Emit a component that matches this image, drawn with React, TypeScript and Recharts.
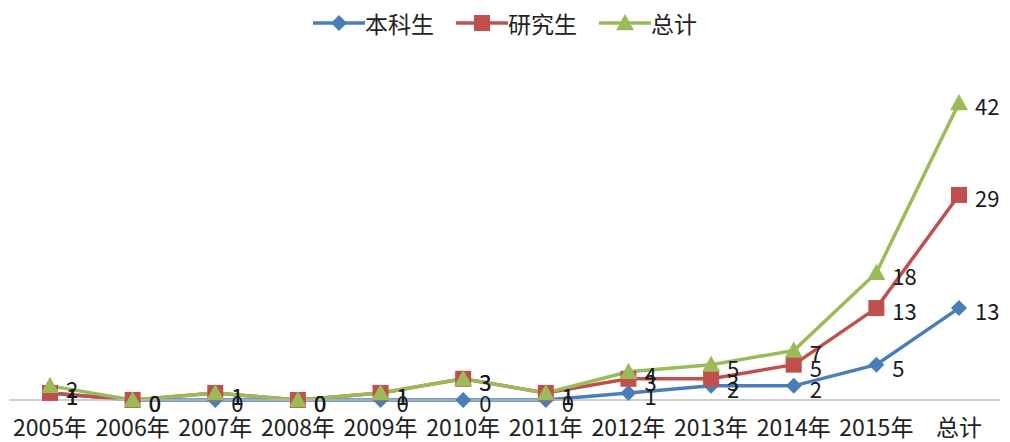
import { LineChart, Line, XAxis, YAxis, LabelList } from 'recharts';

const categories = ['2005年', '2006年', '2007年', '2008年', '2009年', '2010年', '2011年', '2012年', '2013年', '2014年', '2015年', '总计'];
const undergrad = [1, 0, 0, 0, 0, 0, 0, 1, 2, 2, 5, 13];
const graduate = [1, 0, 1, 0, 1, 3, 1, 3, 3, 5, 13, 29];
const total = [2, 0, 1, 0, 1, 3, 1, 4, 5, 7, 18, 42];

const data = categories.map((name, i) => ({
  name,
  undergrad: undergrad[i],
  graduate: graduate[i],
  total: total[i],
}));

const FONT = '"Noto Sans CJK SC", "Noto Sans", sans-serif';
const BLUE = '#4a7ebb';
const RED = '#c0504d';
const GREEN = '#9bbb59';

function Diamond({ cx, cy, fill }: any) {
  const r = 8;
  return <polygon points={`${cx},${cy - r} ${cx + r},${cy} ${cx},${cy + r} ${cx - r},${cy}`} fill={fill} />;
}
function Square({ cx, cy, fill }: any) {
  const r = 8;
  return <rect x={cx - r} y={cy - r} width={r * 2} height={r * 2} fill={fill} />;
}
function Triangle({ cx, cy, fill }: any) {
  const r = 9;
  return <polygon points={`${cx},${cy - r} ${cx + r},${cy + r * 0.8} ${cx - r},${cy + r * 0.8}`} fill={fill} />;
}

const renderLabel = (props: any) => {
  const { x, y, value } = props;
  return (
    <text x={x + 16} y={y + 6} fontSize={22} fontFamily={FONT} fill="#1a1a1a" dominantBaseline="middle">
      {value}
    </text>
  );
};

const renderTick = (props: any) => {
  const { x, y, payload } = props;
  return (
    <text x={x} y={y + 22} textAnchor="middle" dominantBaseline="middle" fontSize={23} fontFamily={FONT} fill="#222">
      {payload.value}
    </text>
  );
};

const legendItems = [
  { label: '本科生', color: BLUE, shape: 'diamond' },
  { label: '研究生', color: RED, shape: 'square' },
  { label: '总计', color: GREEN, shape: 'triangle' },
];

function LegendBar() {
  return (
    <div style={{ position: 'absolute', left: 0, top: 6, width: 1010, display: 'flex', justifyContent: 'center', gap: 22, fontFamily: FONT, fontSize: 23, color: '#222' }}>
      {legendItems.map((it) => (
        <div key={it.label} style={{ display: 'flex', alignItems: 'center' }}>
          <svg width={52} height={20}>
            <line x1={0} y1={10} x2={52} y2={10} stroke={it.color} strokeWidth={3.5} />
            {it.shape === 'diamond' && <Diamond cx={26} cy={10} fill={it.color} />}
            {it.shape === 'square' && <Square cx={26} cy={10} fill={it.color} />}
            {it.shape === 'triangle' && <Triangle cx={26} cy={10} fill={it.color} />}
          </svg>
          <span>{it.label}</span>
        </div>
      ))}
    </div>
  );
}

export default function App() {
  return (
    <div style={{ position: 'absolute', left: 0, top: 0, width: 1010, height: 442, background: '#fff' }}>
      <LegendBar />
      <LineChart width={1010} height={442} data={data} margin={{ top: 103, right: 10, left: 9, bottom: 0 }}>
        <XAxis
          dataKey="name"
          height={42}
          padding={{ left: 41, right: 41 }}
          axisLine={{ stroke: '#bfbfbf', strokeWidth: 1.5 }}
          tickLine={false}
          tick={renderTick}
          interval={0}
        />
        <YAxis hide domain={[0, 42]} />
        <Line dataKey="undergrad" stroke={BLUE} strokeWidth={3.5} isAnimationActive={false} dot={(p: any) => <Diamond key={p.index} cx={p.cx} cy={p.cy} fill={BLUE} />}>
          <LabelList dataKey="undergrad" content={renderLabel} />
        </Line>
        <Line dataKey="graduate" stroke={RED} strokeWidth={3.5} isAnimationActive={false} dot={(p: any) => <Square key={p.index} cx={p.cx} cy={p.cy} fill={RED} />}>
          <LabelList dataKey="graduate" content={renderLabel} />
        </Line>
        <Line dataKey="total" stroke={GREEN} strokeWidth={3.5} isAnimationActive={false} dot={(p: any) => <Triangle key={p.index} cx={p.cx} cy={p.cy} fill={GREEN} />}>
          <LabelList dataKey="total" content={renderLabel} />
        </Line>
      </LineChart>
    </div>
  );
}
